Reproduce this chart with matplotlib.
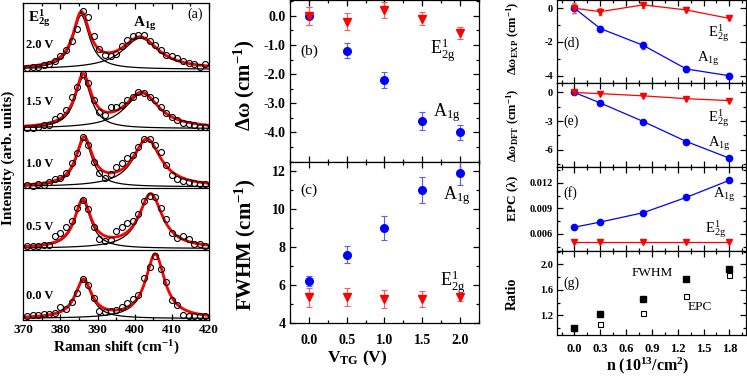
import numpy as np
import matplotlib
matplotlib.use('Agg')
import matplotlib.pyplot as plt
from matplotlib.ticker import MultipleLocator, FormatStrFormatter

plt.rcParams['font.family'] = ['Liberation Serif', 'DejaVu Serif']
plt.rcParams['font.weight'] = 'bold'
plt.rcParams['axes.labelweight'] = 'bold'
plt.rcParams['mathtext.fontset'] = 'custom'
plt.rcParams['mathtext.rm'] = 'Liberation Serif'
plt.rcParams['mathtext.it'] = 'Liberation Serif:italic'
plt.rcParams['mathtext.bf'] = 'Liberation Serif:bold'
plt.rcParams['mathtext.default'] = 'regular'
plt.rcParams['axes.unicode_minus'] = False
plt.rcParams['axes.linewidth'] = 0.9

# ---------------- (a) Raman spectra ----------------
raman_x = [371, 372.5, 374, 375.5, 377, 378.5, 380, 381.5, 383, 384.5, 386,
           387.5, 389, 390.5, 392, 393.5, 395, 396.5, 398, 399.5, 401, 402.5,
           404, 405.5, 407, 408.5, 410, 411.5, 413, 414.5, 416, 417.5, 419]
spec_labels = ['0.0 V', '0.5 V', '1.0 V', '1.5 V', '2.0 V']
spec_0v0 = [3, 4, 4, 5, 5, 6, 12, 10, 17, 26, 40, 34, 21, 8, 7, 8, 9, 12, 16, 20,
            24, 41, 52, 63, 50, 37, 19, 14, 4, 3, 3, 3, 3]
spec_0v5 = [3, 3, 3, 4, 4, 13, 16, 22, 28, 41, 49, 40, 22, 10, 8, 9, 18, 22, 26, 28,
            35, 48, 53, 52, 41, 30, 16, 11, 13, 10, 5, 5, 3]
spec_1v0 = [2, 1, 3, 2, 5, 8, 9, 14, 24, 34, 50, 42, 25, 14, 9, 13, 20, 24, 29, 32,
            40, 48, 48, 42, 35, 22, 12, 8, 6, 5, 4, 3, 3]
spec_1v5 = [1, 1, 2, 4, 4, 10, 13, 19, 32, 42, 55, 46, 29, 17, 14, 22, 22, 24, 29, 32,
            37, 36, 32, 29, 22, 16, 12, 9, 6, 5, 4, 2, 2]
spec_2v0 = [1, 2, 2, 4, 5, 8, 13, 19, 28, 40, 58, 52, 33, 20, 14, 13, 15, 23, 29, 33,
            34, 34, 28, 24, 19, 14, 13, 11, 8, 6, 5, 2, 5]
spectra = [spec_0v0, spec_0v5, spec_1v0, spec_1v5, spec_2v0]

# Lorentzian fit parameters (position, FWHM, amplitude)
e2g_pos = [386.2, 386.0, 386.4, 386.1, 385.6]
e2g_fwhm = [5.4, 5.4, 5.3, 5.3, 5.4]
e2g_amp = [38, 47, 47, 51, 54]
a1g_pos = [405.5, 404.3, 403.3, 401.9, 401.5]
a1g_fwhm = [6.2, 7.6, 9.0, 11.0, 11.9]
a1g_amp = [64, 54, 47, 35, 31]

# ---------------- (b), (c) vs gate voltage ----------------
vtg = [0.0, 0.5, 1.0, 1.5, 2.0]
dw_a1g = [0.0, -1.2, -2.2, -3.6, -4.0]
dw_a1g_err = [0.3, 0.26, 0.28, 0.3, 0.27]
dw_e2g = [0.0, -0.2, 0.2, -0.1, -0.6]
dw_e2g_err = [0.3, 0.28, 0.28, 0.23, 0.2]
fwhm_a1g = [6.2, 7.6, 9.0, 11.0, 11.9]
fwhm_a1g_err = [0.25, 0.46, 0.62, 0.7, 0.65]
fwhm_e2g = [5.35, 5.35, 5.25, 5.25, 5.35]
fwhm_e2g_err = [0.5, 0.47, 0.47, 0.4, 0.2]

# ---------------- (d)-(g) vs carrier density ----------------
n_e = [0.0, 0.3, 0.8, 1.3, 1.8]
exp_a1g_err = [0.3, 0.15, 0.2, 0.2, 0.15]
exp_e2g_err = [0.3, 0.2, 0.2, 0.15, 0.1]
dft_a1g = [0.0, -1.1, -3.05, -5.15, -6.9]
dft_e2g = [0.0, -0.12, -0.35, -0.65, -0.85]
epc_a1g = [0.0068, 0.0074, 0.0085, 0.0103, 0.0123]
epc_e2g = [0.0051, 0.0051, 0.0051, 0.0051, 0.0051]
ratio_fwhm = [1.0, 1.22, 1.45, 1.77, 1.92]
ratio_epc = [1.0, 1.06, 1.24, 1.50, 1.83]


def lorentz(x, c, fwhm, h):
    return h / (1 + ((x - c) / (fwhm / 2.0)) ** 2)


def style(ax, size, xpad=3, ypad=3):
    ax.tick_params(which='both', direction='in', top=True, right=True, width=0.9)
    ax.tick_params(which='major', length=4)
    ax.tick_params(which='minor', length=2)
    ax.tick_params(axis='x', labelsize=size[0], pad=xpad)
    ax.tick_params(axis='y', labelsize=size[1], pad=ypad)


fig = plt.figure(figsize=(7.47, 3.76), dpi=100)

# ---- (a)
ax_a = fig.add_axes([0.0312, 0.1489, 0.2486, 0.843])
separators = [70, 131.7, 190, 249.3]
baselines = [1.5, 71.5, 133.2, 191.5, 250.8]
label_y = [24, 93, 156, 218, 275]
xf = np.linspace(370, 420, 500)
for i in range(5):
    b = baselines[i]
    p1 = lorentz(xf, e2g_pos[i], e2g_fwhm[i], e2g_amp[i])
    p2 = lorentz(xf, a1g_pos[i], a1g_fwhm[i], a1g_amp[i])
    ax_a.plot(xf, b + p1, color='black', lw=0.9)
    ax_a.plot(xf, b + p2, color='black', lw=0.9)
    ax_a.plot(xf, b + p1 + p2, color='red', lw=2)
    ax_a.plot(raman_x, b + np.array(spectra[i]), 'o', mfc='none', mec='black',
              ms=4.3, mew=0.8)
    ax_a.text(370.7, label_y[i], spec_labels[i], fontsize=9, va='center')
for s in separators:
    ax_a.axhline(s, color='black', lw=0.9)
ax_a.set_xlim(370, 420)
ax_a.set_ylim(0, 317)
ax_a.set_yticks([])
ax_a.xaxis.set_major_locator(MultipleLocator(10))
ax_a.xaxis.set_minor_locator(MultipleLocator(5))
style(ax_a, (9.5, 9))
ax_a.text(371.3, 302, r'E$^{1}_{2g}$', fontsize=11, va='center')
ax_a.text(399.5, 296, r'A$_{1g}$', fontsize=11, va='center')
ax_a.text(418.4, 306, '(a)', fontsize=10, fontweight='normal', ha='right', va='center')
ax_a.set_ylabel('Intensity (arb. units)', fontsize=11, va='center')
ax_a.yaxis.set_label_coords(-0.082, 0.513)
ax_a.set_xlabel('Raman shift (cm$^{-1}$)', fontsize=11, va='center')
ax_a.xaxis.set_label_coords(0.502, -0.088)

# ---- (b)
ax_b = fig.add_axes([0.3882, 0.570, 0.253, 0.430])
ax_b.errorbar(vtg, dw_a1g, yerr=dw_a1g_err, fmt='o', color='blue', ms=5.5,
              ecolor='#5a5aff', elinewidth=0.8, capsize=2, capthick=0.8)
ax_b.errorbar(vtg, dw_e2g, yerr=dw_e2g_err, fmt='v', color='red', ms=5.5,
              ecolor='#ff5a5a', elinewidth=0.8, capsize=2, capthick=0.8)
ax_b.set_xlim(-0.25, 2.25)
ax_b.set_ylim(-5.0, 0.54)
ax_b.xaxis.set_major_locator(MultipleLocator(0.5))
ax_b.xaxis.set_minor_locator(MultipleLocator(0.25))
ax_b.yaxis.set_major_locator(MultipleLocator(1.0))
ax_b.yaxis.set_minor_locator(MultipleLocator(0.5))
ax_b.yaxis.set_major_formatter(FormatStrFormatter('%.1f'))
ax_b.set_yticks([0.0, -1.0, -2.0, -3.0, -4.0])
ax_b.tick_params(labelbottom=False)
style(ax_b, (10, 10))
ax_b.set_ylabel('Δω (cm$^{-1}$)', fontsize=15, va='center')
ax_b.yaxis.set_label_coords(-0.243, 0.474)
ax_b.text(0.053, 0.68, '(b)', transform=ax_b.transAxes, fontsize=11,
          fontweight='normal', va='center')
ax_b.text(1.6, -1.17, r'E$^{1}_{2g}$', fontsize=13, fontweight='normal', va='center')
ax_b.text(1.64, -3.3, r'A$_{1g}$', fontsize=13, fontweight='normal', va='center')

# ---- (c)
ax_c = fig.add_axes([0.3882, 0.1418, 0.253, 0.428])
ax_c.errorbar(vtg, fwhm_a1g, yerr=fwhm_a1g_err, fmt='o', color='blue', ms=5.5,
              ecolor='#5a5aff', elinewidth=0.8, capsize=2, capthick=0.8)
ax_c.errorbar(vtg, fwhm_e2g, yerr=fwhm_e2g_err, fmt='v', color='red', ms=5.5,
              ecolor='#ff5a5a', elinewidth=0.8, capsize=2, capthick=0.8)
ax_c.set_xlim(-0.25, 2.25)
ax_c.set_ylim(4, 12.5)
ax_c.xaxis.set_major_locator(MultipleLocator(0.5))
ax_c.xaxis.set_minor_locator(MultipleLocator(0.25))
ax_c.xaxis.set_major_formatter(FormatStrFormatter('%.1f'))
ax_c.yaxis.set_major_locator(MultipleLocator(2))
ax_c.yaxis.set_minor_locator(MultipleLocator(1))
style(ax_c, (10, 10), xpad=8)
ax_c.set_ylabel('FWHM (cm$^{-1}$)', fontsize=15, va='center')
ax_c.yaxis.set_label_coords(-0.235, 0.483)
ax_c.set_xlabel('V$_{TG}$ (V)', fontsize=12.5, va='center')
ax_c.xaxis.set_label_coords(0.353, -0.22)
ax_c.text(0.053, 0.82, '(c)', transform=ax_c.transAxes, fontsize=11,
          fontweight='normal', va='center')
ax_c.text(1.77, 10.7, r'A$_{1g}$', fontsize=13, fontweight='normal', va='center')
ax_c.text(1.73, 6.13, r'E$^{1}_{2g}$', fontsize=13, fontweight='normal', va='center')

# ---- (d)-(g)
left, width = 0.746, 0.2522
ax_d = fig.add_axes([left, 0.7793, width, 0.2207])
ax_e = fig.add_axes([left, 0.5566, width, 0.2227])
ax_f = fig.add_axes([left, 0.3324, width, 0.2242])
ax_g = fig.add_axes([left, 0.109, width, 0.2234])

ax_d.errorbar(n_e, dw_a1g, yerr=exp_a1g_err, fmt='-o', color='blue', ms=4.5, lw=0.9,
              ecolor='#5a5aff', elinewidth=0.8, capsize=1.5)
ax_d.errorbar(n_e, dw_e2g, yerr=exp_e2g_err, fmt='-v', color='red', ms=5, lw=0.9,
              ecolor='#ff5a5a', elinewidth=0.8, capsize=1.5)
ax_d.set_ylim(-4.43, 0.49)
ax_d.yaxis.set_major_locator(MultipleLocator(2))
ax_d.yaxis.set_minor_locator(MultipleLocator(1))
ax_d.set_ylabel('Δω$_{EXP}$ (cm$^{-1}$)', fontsize=9, va='center')
ax_d.yaxis.set_label_coords(-0.235, 0.54)
ax_d.text(0.03, 0.48, '(d)', transform=ax_d.transAxes, fontsize=10,
          fontweight='normal', va='center')
ax_d.text(1.55, -1.47, r'E$^{1}_{2g}$', fontsize=10.5, fontweight='normal', va='center')
ax_d.text(1.42, -3.0, r'A$_{1g}$', fontsize=10.5, fontweight='normal', va='center')

ax_e.plot(n_e, dft_a1g, '-o', color='blue', ms=4.5, lw=0.9)
ax_e.plot(n_e, dft_e2g, '-v', color='red', ms=5, lw=0.9)
ax_e.set_ylim(-7.8, 1.0)
ax_e.yaxis.set_major_locator(MultipleLocator(3))
ax_e.yaxis.set_minor_locator(MultipleLocator(1.5))
ax_e.set_ylabel('Δω$_{DFT}$ (cm$^{-1}$)', fontsize=9, va='center')
ax_e.yaxis.set_label_coords(-0.235, 0.5)
ax_e.text(0.03, 0.54, '(e)', transform=ax_e.transAxes, fontsize=10,
          fontweight='normal', va='center')
ax_e.text(1.55, -2.66, r'E$^{1}_{2g}$', fontsize=10.5, fontweight='normal', va='center')
ax_e.text(1.55, -5.4, r'A$_{1g}$', fontsize=10.5, fontweight='normal', va='center')

ax_f.plot(n_e, epc_a1g, '-o', color='blue', ms=4.5, lw=0.9)
ax_f.plot(n_e, epc_e2g, '-v', color='red', ms=5, lw=0.9)
ax_f.set_ylim(0.004, 0.0139)
ax_f.yaxis.set_major_locator(MultipleLocator(0.003))
ax_f.yaxis.set_minor_locator(MultipleLocator(0.0015))
ax_f.yaxis.set_major_formatter(FormatStrFormatter('%.3f'))
ax_f.set_ylabel('EPC (λ)', fontsize=9.5, va='center')
ax_f.yaxis.set_label_coords(-0.24, 0.63)
ax_f.text(0.03, 0.69, '(f)', transform=ax_f.transAxes, fontsize=10,
          fontweight='normal', va='center')
ax_f.text(1.61, 0.01062, r'A$_{1g}$', fontsize=10.5, fontweight='normal', va='center')
ax_f.text(1.52, 0.00662, r'E$^{1}_{2g}$', fontsize=10.5, fontweight='normal', va='center')

ax_g.plot(n_e, ratio_epc, 's', mfc='white', mec='black', ms=3.6, mew=0.8)
ax_g.plot(n_e, ratio_fwhm, 's', color='black', ms=4.5)
ax_g.set_ylim(0.89, 2.21)
ax_g.yaxis.set_major_locator(MultipleLocator(0.4))
ax_g.yaxis.set_minor_locator(MultipleLocator(0.2))
ax_g.yaxis.set_major_formatter(FormatStrFormatter('%.1f'))
ax_g.set_ylabel('Ratio', fontsize=10, va='center')
ax_g.yaxis.set_label_coords(-0.24, 0.49)
ax_g.text(0.03, 0.62, '(g)', transform=ax_g.transAxes, fontsize=10,
          fontweight='normal', va='center')
ax_g.text(0.665, 1.87, 'FWHM', fontsize=9.5, fontweight='normal', va='center')
ax_g.text(1.32, 1.33, 'EPC', fontsize=9.5, fontweight='normal', va='center')
ax_g.set_xlabel('n (10$^{13}$/cm$^{2}$)', fontsize=11.5, va='center')
ax_g.xaxis.set_label_coords(0.48, -0.36)

for ax in (ax_d, ax_e, ax_f, ax_g):
    ax.set_xlim(-0.2, 1.99)
    ax.xaxis.set_major_locator(MultipleLocator(0.3))
    ax.xaxis.set_minor_locator(MultipleLocator(0.15))
    ax.xaxis.set_major_formatter(FormatStrFormatter('%.1f'))
    style(ax, (9, 7.5), xpad=6)
for ax in (ax_d, ax_e, ax_f):
    ax.tick_params(labelbottom=False)

fig.savefig('out.png', dpi=100)
